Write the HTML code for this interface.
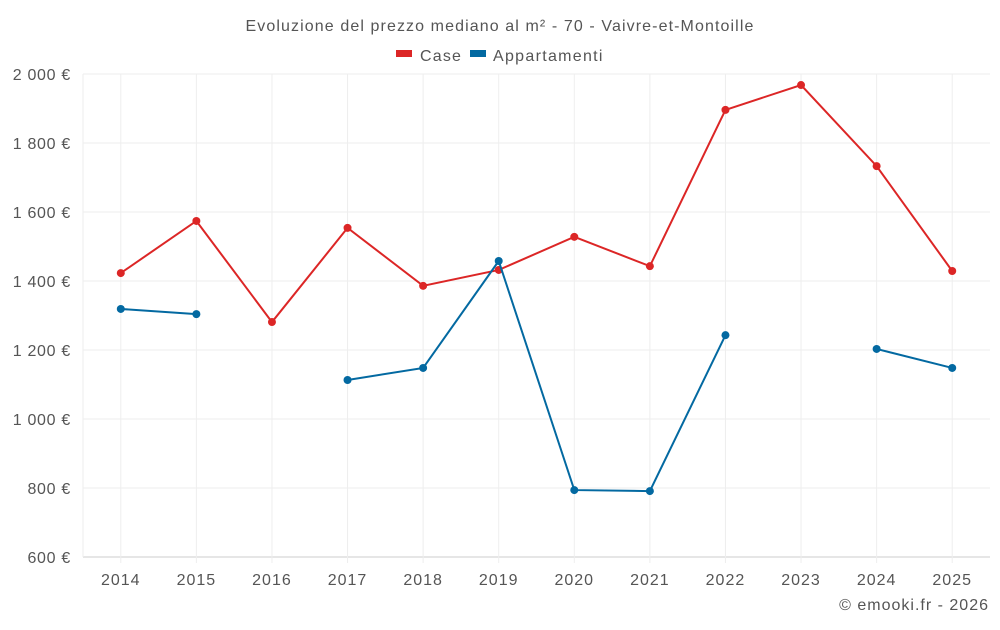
<!DOCTYPE html>
<html><head><meta charset="utf-8"><style>
body{margin:0;background:#fff;font-family:"Liberation Sans",sans-serif;}
svg text{font-family:"Liberation Sans",sans-serif;fill:#555;}
</style></head><body>
<svg width="1000" height="625">
<text x="500" y="31" text-anchor="middle" font-size="16" letter-spacing="1.1">Evoluzione del prezzo mediano al m² - 70 - Vaivre-et-Montoille</text>
<g>
<g><rect x="396" y="50" width="16" height="7" fill="#dc2626"/><text x="420" y="61" font-size="16" letter-spacing="1.2">Case</text></g>
<g><rect x="470" y="50" width="16" height="7" fill="#0369a1"/><text x="493" y="61" font-size="16" letter-spacing="1.3">Appartamenti</text></g>
</g>
<g id="grid"></g><g id="axes"></g><g id="series"></g>
<text x="989" y="610" text-anchor="end" font-size="16" letter-spacing="1">© emooki.fr - 2026</text>
</svg>
<script>
const years=[2014,2015,2016,2017,2018,2019,2020,2021,2022,2023,2024,2025];
const caseVals=[1423,1574,1281,1554,1386,1432,1528,1443,1896,1968,1733,1429];
const aptVals=[1319,1304,null,1113,1148,1458,794,791,1243,null,1203,1148];
const yTicks=[600,800,1000,1200,1400,1600,1800,2000];
const tickLabels=["600 €","800 €","1 000 €","1 200 €","1 400 €","1 600 €","1 800 €","2 000 €"];
const L=83,R=990,T=74,B=557,NS='http://www.w3.org/2000/svg';
const step=(R-L)/years.length;
const x=i=>L+step*(i+0.5);
const y=v=>B-(v-600)/1400*(B-T);
function mk(tag,a,p){const e=document.createElementNS(NS,tag);for(const k in a)e.setAttribute(k,a[k]);p.appendChild(e);return e;}
const g=document.getElementById('grid'),ax=document.getElementById('axes'),s=document.getElementById('series');
yTicks.forEach((t,i)=>{
 const l=mk('line',{x1:L,x2:R,y1:y(t),y2:y(t),stroke:i==0?'#ccc':'#eee'},g);
 
 
 const tx=mk('text',{x:71,y:y(t)+6,'text-anchor':'end','font-size':16,'letter-spacing':0.7},ax);tx.textContent=tickLabels[i];
 
 
});
years.forEach((yr,i)=>{
 const l=mk('line',{x1:x(i),x2:x(i),y1:T,y2:B+6,stroke:'#eee'},g);
 
 
 const tx=mk('text',{x:x(i),y:585,'text-anchor':'middle','font-size':16,'letter-spacing':1},ax);tx.textContent=yr;
 
 
});
mk('line',{x1:L,x2:L,y1:T,y2:B,stroke:'#eee'},g);
function draw(vals,color,name){
 let d='',pen=false;
 vals.forEach((v,i)=>{if(v==null){pen=false;return;}d+=(pen?'L':'M')+x(i)+' '+y(v)+' ';pen=true;});
 const p=mk('path',{d:d,fill:'none',stroke:color,'stroke-width':2},s);
 
 
 vals.forEach((v,i)=>{if(v==null)return;
  const c=mk('circle',{cx:x(i),cy:y(v),r:4,fill:color},s);
  
  
 });
}
draw(caseVals,'#dc2626','case');
draw(aptVals,'#0369a1','appartamenti');
</script>
</body></html>
